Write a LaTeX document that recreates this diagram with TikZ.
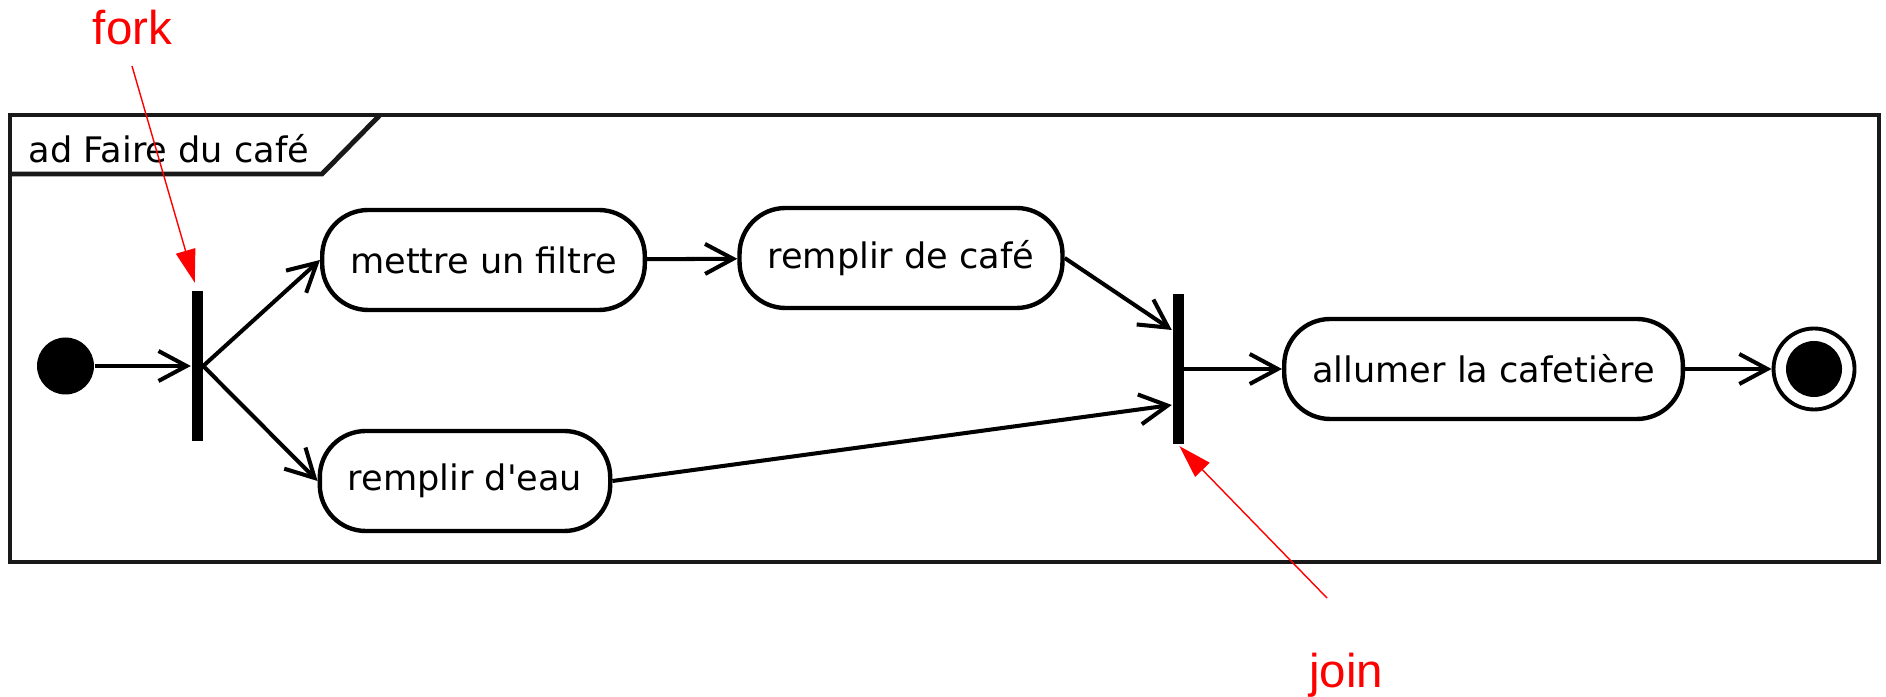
\documentclass[tikz,border=0pt]{standalone}
\usepackage{fontspec}
\setmainfont{DejaVu Sans}[Ligatures=TeXOff]
\newfontfamily\notefont{Liberation Sans}
\usetikzlibrary{arrows.meta}
\begin{document}
\begin{tikzpicture}[
  frame/.style={draw=black!90, line width=1.4pt},
  action/.style={draw, rectangle, rounded corners=0.46cm, line width=1.25pt, minimum height=1cm,
    inner xsep=0.28cm, font=\fontsize{10}{12}\selectfont},
  bar/.style={rectangle, fill=black, minimum width=0.11cm, minimum height=1.5cm, inner sep=0pt},
  initnode/.style={circle, fill=black, minimum size=0.57cm, inner sep=0pt},
  finalnode/.style={circle, draw, line width=1.1pt, minimum size=0.81cm, inner sep=0pt,
    path picture={\fill (path picture bounding box.center) circle (0.28cm);}},
  flow/.style={-{Straight Barb[length=0.28cm, width=0.3cm]}, line width=1.15pt},
  note/.style={-{Triangle[length=0.33cm, width=0.2cm]}, draw=red, line width=0.4pt},
  notetext/.style={text=red, font=\notefont\fontsize{13.5}{16}\selectfont, anchor=base}]
  \useasboundingbox (0,0) rectangle (18.86,6.96);
  \draw[frame] (0.10,1.34) rectangle (18.79,5.81);
  \draw[frame] (0.10,5.22) -- (3.22,5.22) -- (3.80,5.81);
  \node[anchor=base west, font=\fontsize{10}{12}\selectfont, inner sep=0pt] (title) at (0.28,5.33) {ad Faire du café};
  \node[initnode] (init) at (0.655,3.30) {};
  \node[bar] (fork) at (1.97,3.30) {};
  \node[action] (filtre) at (4.835,4.36) {mettre un filtre};
  \node[action] (eau) at (4.65,2.15) {remplir d'eau};
  \node[action] (cafe) at (9.01,4.38) {remplir de café};
  \node[bar] (join) at (11.78,3.27) {};
  \node[action] (allumer) at (14.835,3.27) {allumer la cafetière};
  \node[finalnode] (final) at (18.14,3.27) {};
  \draw[flow] (init) -- (fork.west);
  \draw[flow] (fork.east) -- (filtre.west);
  \draw[flow] (fork.east) -- (eau.west);
  \draw[flow] (filtre) -- (cafe);
  \draw[flow] (cafe.east) -- ([yshift=0.39cm]join.west);
  \draw[flow] (eau.east) -- ([yshift=-0.36cm]join.west);
  \draw[flow] (join.east) -- (allumer.west);
  \draw[flow] (allumer) -- (final);
  \node[notetext] (forklbl) at (1.325,6.51) {fork};
  \node[notetext] (joinlbl) at (13.46,0.09) {join};
  \coordinate (forktail) at (1.32,6.30);
  \coordinate (jointail) at (13.27,0.98);
  \draw[note, shorten >=0.08cm] (forktail) -- (fork.north);
  \draw[note, shorten >=0.02cm] (jointail) -- (join.south);
\end{tikzpicture}
\end{document}
